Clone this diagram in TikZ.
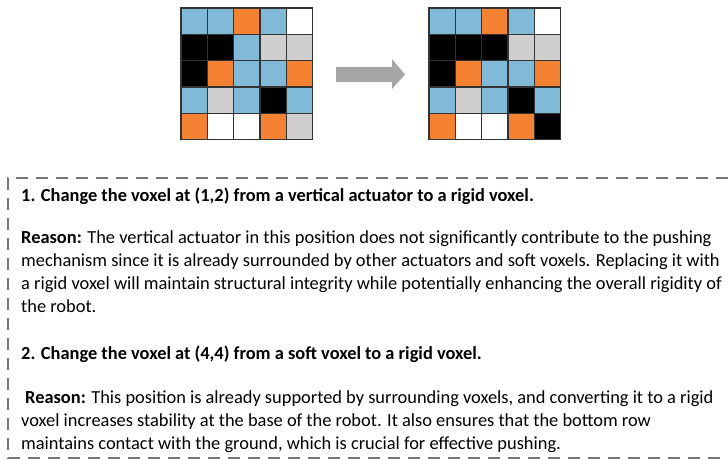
\documentclass[tikz,border=0pt]{standalone}
\usepackage{fontspec}
\setmainfont{Carlito}
\usepackage{tikz}
\usetikzlibrary{positioning}

\definecolor{vblue}{RGB}{128,186,216}
\definecolor{vorange}{RGB}{245,130,50}
\definecolor{vgray}{RGB}{208,206,206}
\definecolor{arrowgray}{RGB}{166,166,166}
\definecolor{dashgray}{RGB}{118,118,118}

\begin{document}
\begin{tikzpicture}[x=1pt, y=-1pt,
    voxel/.style={draw=black!80, line width=1.3pt, minimum size=26.3pt, inner sep=0pt},
    txt/.style={anchor=base west, inner sep=0pt, font=\fontsize{18.4}{23}\selectfont},
    boxdash/.style={draw=dashgray, line width=2.5pt, dash pattern=on 12pt off 8pt}]
  \useasboundingbox (0,0) rectangle (728,460);

  % voxel grids, before and after
  \foreach \row [count=\r] in {{vblue,vblue,vorange,vblue,white},
                               {black,black,vblue,vgray,vgray},
                               {black,vorange,vblue,vblue,vorange},
                               {vblue,vgray,vblue,black,vblue},
                               {vorange,white,white,vorange,vgray}}
    \foreach \c [count=\k] in \row
      \node[voxel, fill=\c] (a-\r-\k) at ({181+26.3*(\k-0.5)}, {8+26.3*(\r-0.5)}) {};
  \foreach \row [count=\r] in {{vblue,vblue,vorange,vblue,white},
                               {black,black,black,vgray,vgray},
                               {black,vorange,vblue,vblue,vorange},
                               {vblue,vgray,vblue,black,vblue},
                               {vorange,white,white,vorange,black}}
    \foreach \c [count=\k] in \row
      \node[voxel, fill=\c] (b-\r-\k) at ({429+26.3*(\k-0.5)}, {8+26.3*(\r-0.5)}) {};

  % block arrow
  \fill[arrowgray] (336,67) -- (392,67) -- (392,59) -- (405,74.5)
                   -- (392,89) -- (392,82) -- (336,82) -- cycle;

  % dashed frame
  \draw[boxdash] (728,178) -- (8,178) -- (8,458) -- (728,458);

  \node[txt] (h1)  at (21,201) {\textbf{1. Change the voxel at (1,2) from a vertical actuator to a rigid voxel.}};
  \node[txt] (r1a) at (21,243) {\textbf{Reason:} The vertical actuator in this position does not significantly contribute to the pushing};
  \node[txt] (r1b) at (21,266) {mechanism since it is already surrounded by other actuators and soft voxels. Replacing it with};
  \node[txt] (r1c) at (21,289) {a rigid voxel will maintain structural integrity while potentially enhancing the overall rigidity of};
  \node[txt] (r1d) at (21,312) {the robot.};
  \node[txt] (h2)  at (21,359) {\textbf{2. Change the voxel at (4,4) from a soft voxel to a rigid voxel.}};
  \node[txt] (r2a) at (25,403) {\textbf{Reason:} This position is already supported by surrounding voxels, and converting it to a rigid};
  \node[txt] (r2b) at (21,426) {voxel increases stability at the base of the robot. It also ensures that the bottom row};
  \node[txt] (r2c) at (21,449) {maintains contact with the ground, which is crucial for effective pushing.};
\end{tikzpicture}
\end{document}
